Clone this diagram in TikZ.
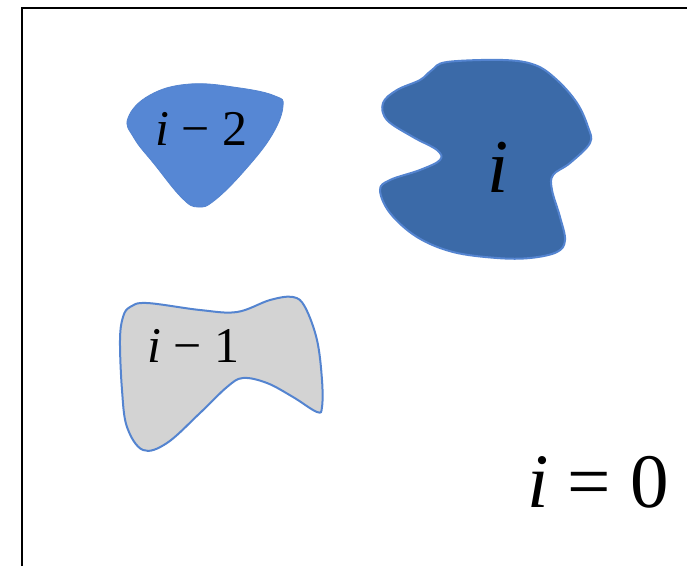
\documentclass[tikz,border=0pt]{standalone}
\usepackage{fontspec}
\setmainfont{Liberation Serif}
\definecolor{lightblob}{RGB}{86,135,212}
\definecolor{darkblob}{RGB}{59,106,168}
\definecolor{blobline}{RGB}{84,132,208}
\definecolor{greyblob}{RGB}{211,211,211}
\tikzset{
  blob/.style={draw=blobline, line width=2pt},
  lab/.style={inner sep=0pt, anchor=base west, font=\fontsize{50}{60}\selectfont},
}
\begin{document}
\begin{tikzpicture}[x=1pt,y=-1pt]
\useasboundingbox (0,0) rectangle (687,566);
% frame
\draw[line width=1.2pt] (22,566) -- (22,8) -- (687,8);
% step i-2
\filldraw[blob, fill=lightblob, line width=0.8pt] plot[smooth cycle, tension=0.7] coordinates {
  (128,118) (150,95) (190,84) (240,88) (275,96) (283,106) (272,135)
  (245,170) (215,200) (198,207) (182,198) (155,165) (134,138)};
% step i
\filldraw[blob, fill=darkblob] plot[smooth cycle, tension=0.6] coordinates {
  (447,62) (503,60) (535,65) (557,80) (577,103) (588,127) (590,143)
  (570,163) (553,175) (552,190) (560,217) (565,240) (557,252) (530,258)
  (497,258) (453,252) (417,237) (390,213) (380,190) (390,180) (420,170)
  (440,160) (437,150) (413,137) (387,120) (383,103) (397,90) (420,80) (432,70)};
% step i-1
\filldraw[blob, fill=greyblob] plot[smooth cycle, tension=0.6] coordinates {
  (130,307) (147,303) (200,310) (237,312) (270,300) (293,297) (305,307)
  (317,340) (322,380) (322,407) (317,412) (293,397) (267,383) (243,378)
  (227,387) (200,413) (167,443) (143,450) (127,427) (122,390) (120,340) (123,317)};
% labels
\node[lab] (labtwo) at (155,145) {{\itshape i} − 2};
\node[lab, font=\fontsize{76}{90}\selectfont] (labi) at (487,192) {\itshape i};
\node[lab] (labone) at (147,362) {{\itshape i} − 1};
\node[lab, font=\fontsize{77}{90}\selectfont] (labzero) at (527,507) {{\itshape i} = 0};
\end{tikzpicture}
\end{document}
